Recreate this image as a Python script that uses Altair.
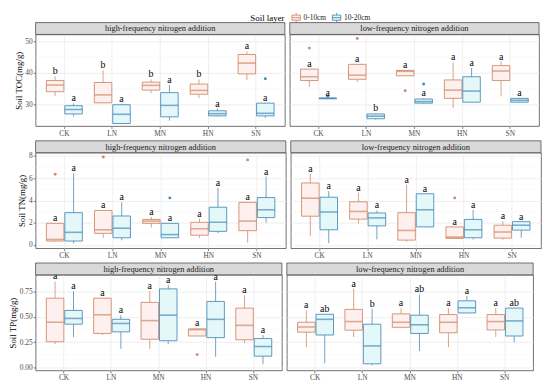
import altair as alt
import pandas as pd

TREATMENTS = ["CK", "LN", "MN", "HN", "SN"]
LAYERS = ["0-10cm", "10-20cm"]
FREQ = ["high-frequency nitrogen addition", "low-frequency nitrogen addition"]

# box order: CK 0-10, CK 10-20, LN 0-10, LN 10-20, MN.., HN.., SN..
# ---- Soil TOC, high frequency
toc_h_low = [32.8, 26.3, 30.6, 24.0, 33.6, 25.0, 32.1, 26.3, 37.8, 25.8]
toc_h_q1 = [34.1, 27.1, 30.6, 24.1, 34.6, 26.2, 33.3, 26.5, 39.7, 26.5]
toc_h_med = [36.2, 28.5, 33.1, 27.0, 36.1, 29.8, 34.5, 27.2, 43.1, 27.3]
toc_h_q3 = [37.6, 29.7, 37.0, 30.0, 37.1, 33.8, 36.5, 28.1, 45.8, 30.5]
toc_h_up = [39.0, 30.4, 40.8, 30.3, 38.0, 36.3, 38.0, 28.8, 46.8, 30.6]
toc_h_let = ["b", "a", "b", "a", "b", "a", "b", "a", "a", "a"]
toc_h_out = [("SN", "10-20cm", 38.2)]
# ---- Soil TOC, low frequency
toc_l_low = [35.6, 31.8, 37.2, 25.3, 39.1, 30.4, 29.0, 30.8, 32.6, 30.7]
toc_l_q1 = [37.6, 31.9, 38.0, 25.6, 39.1, 30.5, 32.0, 30.8, 37.6, 30.8]
toc_l_med = [38.8, 32.0, 39.3, 26.4, 40.5, 31.0, 34.6, 34.3, 40.6, 31.4]
toc_l_q3 = [41.2, 32.1, 42.7, 27.1, 40.8, 31.8, 37.8, 38.8, 42.3, 32.0]
toc_l_up = [41.2, 32.2, 42.7, 27.3, 40.8, 32.0, 43.3, 41.6, 43.6, 32.2]
toc_l_let = ["a", "a", "a", "b", "a", "a", "a", "a", "a", "a"]
toc_l_out = [("CK", "0-10cm", 47.8), ("CK", "10-20cm", 32.7), ("LN", "0-10cm", 50.8),
             ("MN", "0-10cm", 34.4), ("MN", "10-20cm", 36.5)]
# ---- Soil TN, high frequency
tn_h_low = [0.30, 0.12, 0.64, 0.41, 1.57, 0.64, 0.64, 1.07, 0.20, 2.00]
tn_h_q1 = [0.35, 0.35, 1.04, 0.64, 1.94, 0.64, 0.87, 1.22, 1.28, 2.46]
tn_h_med = [0.49, 1.13, 1.36, 1.50, 2.14, 0.93, 1.45, 2.03, 2.14, 3.16]
tn_h_q3 = [1.94, 2.90, 3.10, 2.60, 2.29, 1.94, 2.03, 3.39, 3.83, 4.26]
tn_h_up = [1.94, 6.43, 3.10, 3.83, 2.52, 1.94, 2.37, 5.13, 3.83, 6.15]
tn_h_let = ["a"] * 10
tn_h_out = [("CK", "0-10cm", 6.35), ("LN", "0-10cm", 7.9), ("MN", "10-20cm", 4.23),
            ("SN", "0-10cm", 7.65)]
# ---- Soil TN, low frequency
tn_l_low = [0.78, 0.14, 1.94, 0.49, 0.29, 1.62, 0.58, 0.49, 0.46, 0.64]
tn_l_q1 = [2.58, 1.36, 2.32, 1.71, 0.43, 1.62, 0.58, 0.64, 0.61, 1.33]
tn_l_med = [4.20, 2.96, 3.01, 2.43, 1.30, 3.16, 0.70, 1.36, 1.16, 1.77]
tn_l_q3 = [5.57, 4.29, 3.88, 2.87, 2.90, 4.60, 1.62, 2.29, 1.77, 2.09]
tn_l_up = [6.37, 4.84, 4.70, 3.10, 5.42, 4.60, 1.62, 3.16, 2.14, 2.09]
tn_l_let = ["a"] * 10
tn_l_out = [("HN", "0-10cm", 4.23)]
# ---- Soil TP, high frequency
tp_h_low = [0.23, 0.30, 0.32, 0.183, 0.183, 0.23, 0.31, 0.104, 0.24, 0.031]
tp_h_q1 = [0.253, 0.427, 0.335, 0.351, 0.278, 0.263, 0.31, 0.294, 0.273, 0.111]
tp_h_med = [0.446, 0.484, 0.52, 0.434, 0.462, 0.516, 0.373, 0.475, 0.415, 0.206]
tp_h_q3 = [0.684, 0.563, 0.684, 0.475, 0.643, 0.776, 0.38, 0.652, 0.586, 0.285]
tp_h_up = [0.85, 0.753, 0.684, 0.516, 0.753, 0.817, 0.385, 0.848, 0.712, 0.32]
tp_h_let = ["a"] * 10
tp_h_out = [("HN", "0-10cm", 0.126)]
# ---- Soil TP, low frequency
tp_l_low = [0.20, 0.041, 0.30, 0.019, 0.396, 0.161, 0.20, 0.538, 0.30, 0.247]
tp_l_q1 = [0.348, 0.32, 0.368, 0.035, 0.396, 0.335, 0.342, 0.538, 0.37, 0.31]
tp_l_med = [0.399, 0.475, 0.453, 0.212, 0.446, 0.421, 0.446, 0.589, 0.453, 0.459]
tp_l_q3 = [0.446, 0.525, 0.573, 0.427, 0.529, 0.516, 0.522, 0.658, 0.522, 0.586]
tp_l_up = [0.563, 0.525, 0.776, 0.579, 0.586, 0.722, 0.586, 0.706, 0.586, 0.586]
tp_l_let = ["a", "ab", "a", "b", "a", "ab", "a", "a", "a", "ab"]
tp_l_out = []

# y axes per row
toc_ticks, toc_minor, toc_dom = [30, 40, 50], [25, 35, 45], [23.3, 52.1]
tn_ticks, tn_minor, tn_dom = [0, 2, 4, 6, 8], [1, 3, 5, 7], [-0.3, 8.3]
tp_ticks, tp_minor, tp_dom = [0, 0.25, 0.5, 0.75], [0.125, 0.375, 0.625, 0.875], [-0.03, 0.915]

FONT = "Liberation Serif"
STROKES = ["#D08A69", "#4A8CB8"]
FILLS = ["#FDF0EE", "#E4F8FA"]
BOX_PATH = "M-0.9,-0.55H0.9V0.55H-0.9Z M-0.9,0H0.9 M0,-0.55V-1 M0,0.55V1"
STRIP_H = 12
LEG_TOP = -23

LEG = alt.Legend(
    title="Soil layer", orient="none", legendX=218, legendY=LEG_TOP, direction="horizontal",
    titleOrient="left", symbolType=BOX_PATH, symbolSize=90, symbolStrokeWidth=0.9,
    labelFont=FONT, labelFontSize=7.5, labelColor="#1A1A1A", titleFont=FONT,
    titleFontSize=9, titleFontWeight="normal", titleColor="#000000", columnPadding=4,
    labelOffset=2, padding=0, titlePadding=6,
)


def box_frame(low, q1, med, q3, up, letters):
    rows = []
    for i in range(10):
        rows.append(dict(treatment=TREATMENTS[i // 2], layer=LAYERS[i % 2], low=low[i],
                         q1=q1[i], med=med[i], q3=q3[i], up=up[i], letter=letters[i]))
    return pd.DataFrame(rows)


def panel(df, outliers, title, width, height, ydom, ymajor, yminor, yfmt, ytitle, show_y, legend, yext):
    yscale = alt.Scale(domain=ydom, nice=False, zero=False)
    if show_y:
        yaxis = alt.Axis(title=ytitle, values=ymajor, format=yfmt, grid=True,
                         minExtent=yext, maxExtent=yext)
    else:
        yaxis = alt.Axis(title=None, values=ymajor, labels=False, ticks=False, grid=True,
                         minExtent=0, maxExtent=0)
    xaxis = alt.Axis(title=None, bandPosition=0.5, grid=True, labelAngle=0, minExtent=11, maxExtent=11)
    xenc = alt.X("treatment:N", sort=TREATMENTS,
                 scale=alt.Scale(domain=TREATMENTS, paddingInner=0, paddingOuter=0.1), axis=xaxis)
    xo = alt.XOffset("layer:N", sort=LAYERS,
                     scale=alt.Scale(domain=LAYERS, paddingInner=0.05, paddingOuter=0.325))

    def Y(f):
        return alt.Y(f"{f}:Q", scale=yscale, axis=yaxis)

    sscale = alt.Scale(domain=LAYERS, range=STROKES)
    fscale = alt.Scale(domain=LAYERS, range=FILLS)
    # colour scale for whiskers/medians/outliers (listed in reverse so it keeps its own, hidden legend)
    cscale = alt.Scale(domain=LAYERS[::-1], range=STROKES[::-1])
    step = width / 5.2
    bw = 0.95 * step / 2.6
    leg = LEG if legend else None
    col = alt.Color("layer:N", scale=cscale, legend=None)

    base = alt.Chart(df)
    minor = alt.Chart(pd.DataFrame({"v": yminor})).mark_rule(color="#F3F3F3", strokeWidth=0.5).encode(y=Y("v"))
    w_lo = base.mark_rule(strokeWidth=0.8).encode(x=xenc, xOffset=xo, y=Y("low"), y2="q1", color=col)
    w_hi = base.mark_rule(strokeWidth=0.8).encode(x=xenc, xOffset=xo, y=Y("q3"), y2="up", color=col)
    bars = base.mark_bar(strokeWidth=0.9).encode(
        x=xenc, xOffset=xo, y=Y("q1"), y2="q3",
        fill=alt.Fill("layer:N", scale=fscale, legend=leg),
        stroke=alt.Stroke("layer:N", scale=sscale, legend=leg))
    med = base.mark_tick(thickness=1.6, size=bw).encode(x=xenc, xOffset=xo, y=Y("med"), color=col)
    letters = base.mark_text(font=FONT, fontSize=10, baseline="alphabetic", dy=-2, color="#000000").encode(
        x=xenc, xOffset=xo, y=Y("up"), text="letter:N")
    layers = [minor, w_lo, w_hi, bars, med]
    if outliers:
        odf = pd.DataFrame(outliers, columns=["treatment", "layer", "value"])
        layers.append(alt.Chart(odf).mark_circle(size=9, opacity=1).encode(
            x=xenc, xOffset=xo, y=Y("value"), color=col))
    layers.append(letters)
    sdf = pd.DataFrame({"t": [title]})
    if legend:
        # transparent band that reserves room above the strip for the legend
        layers.append(alt.Chart(sdf).mark_rect(fill="#FFFFFF", fillOpacity=0, strokeOpacity=0).encode(
            x=alt.value(0), x2=alt.value(width), y=alt.value(LEG_TOP), y2=alt.value(-STRIP_H)))
    strip = alt.Chart(sdf).mark_rect(fill="#D9D9D9", stroke="#4D4D4D", strokeWidth=0.8).encode(
        x=alt.value(0), x2=alt.value(width), y=alt.value(-STRIP_H), y2=alt.value(0))
    stext = alt.Chart(sdf).mark_text(font=FONT, fontSize=8.5, color="#1A1A1A", baseline="middle").encode(
        x=alt.value(width / 2), y=alt.value(-STRIP_H / 2), text="t:N")
    layers += [strip, stext]
    return alt.layer(*layers).properties(width=width, height=height)


def row(dfs, outs, width, height, ydom, ymajor, yminor, yfmt, ytitle, yext, legend=False):
    left = panel(dfs[0], outs[0], FREQ[0], width, height, ydom, ymajor, yminor, yfmt, ytitle,
                 True, legend, yext)
    right = panel(dfs[1], outs[1], FREQ[1], width, height, ydom, ymajor, yminor, yfmt, ytitle,
                  False, False, yext)
    return alt.hconcat(left, right, spacing=5, bounds="flush").resolve_scale(
        fill="independent", stroke="independent", color="independent")


r1 = row([box_frame(toc_h_low, toc_h_q1, toc_h_med, toc_h_q3, toc_h_up, toc_h_let),
          box_frame(toc_l_low, toc_l_q1, toc_l_med, toc_l_q3, toc_l_up, toc_l_let)],
         [toc_h_out, toc_l_out], 253, 93, toc_dom, toc_ticks, toc_minor, "d", "Soil TOC(mg/g)",
         11, legend=True)
r2 = row([box_frame(tn_h_low, tn_h_q1, tn_h_med, tn_h_q3, tn_h_up, tn_h_let),
          box_frame(tn_l_low, tn_l_q1, tn_l_med, tn_l_q3, tn_l_up, tn_l_let)],
         [tn_h_out, tn_l_out], 254, 97, tn_dom, tn_ticks, tn_minor, "d", "Soil TN(mg/g)", 8)
r3 = row([box_frame(tp_h_low, tp_h_q1, tp_h_med, tp_h_q3, tp_h_up, tp_h_let),
          box_frame(tp_l_low, tp_l_q1, tp_l_med, tp_l_q3, tp_l_up, tp_l_let)],
         [tp_h_out, tp_l_out], 250, 97, tp_dom, tp_ticks, tp_minor, ".2f", "Soil TP(mg/g)", 17)

chart = alt.vconcat(r1, r2, r3, spacing=2).resolve_scale(
    fill="independent", stroke="independent", color="independent"
).properties(padding=0).configure_view(
    stroke="#4D4D4D", strokeWidth=0.8
).configure_axis(
    labelFont=FONT, labelFontSize=7.5, labelColor="#4D4D4D", tickColor="#333333",
    tickSize=2.5, tickWidth=0.6, domain=False, gridColor="#EBEBEB", gridWidth=0.8,
    titleFont=FONT, titleFontSize=9, titleFontWeight="normal", titleColor="#000000",
    labelPadding=1, titlePadding=1,
)

chart.save("out.html", embed_options={"renderer": "svg", "actions": False})
